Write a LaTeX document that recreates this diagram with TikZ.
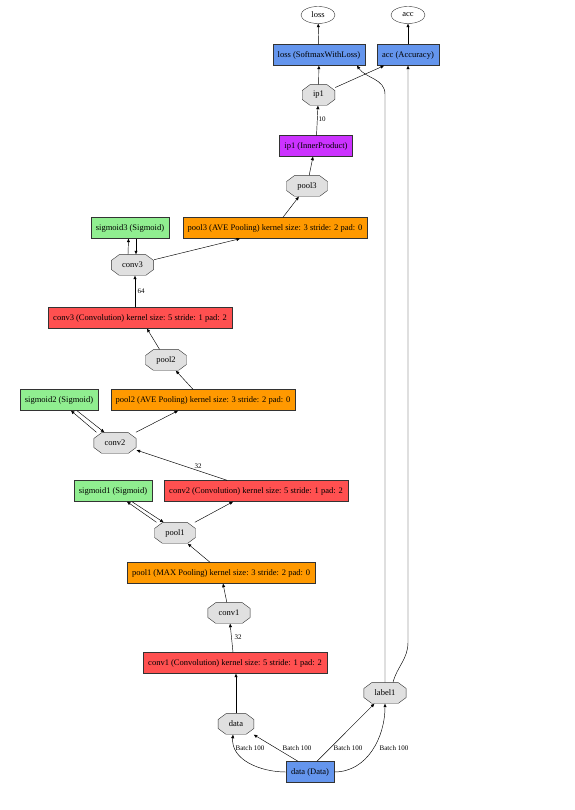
\documentclass[tikz,border=0pt]{standalone}
\usepackage{fontspec}
\setmainfont{Liberation Serif}
\usetikzlibrary{shapes.geometric,arrows.meta}
\definecolor{convred}{HTML}{FF5050}
\definecolor{poolorange}{HTML}{FF9900}
\definecolor{sigmoidgreen}{HTML}{90EE90}
\definecolor{ipviolet}{HTML}{CC33FF}
\definecolor{datablue}{HTML}{6495ED}
\definecolor{blobgray}{HTML}{E0E0E0}
\begin{document}
\begin{tikzpicture}[x=1pt,y=1pt]
\tikzstyle{every node}+=[font=\fontsize{8.5}{10}\selectfont]
\tikzstyle{layer}=[draw=black!80, line width=0.4pt, rectangle, inner xsep=5pt, minimum height=21pt]
\tikzstyle{blob}=[rectangle, inner xsep=11pt, inner ysep=0pt, minimum width=33pt, minimum height=21pt,
  path picture={\draw[fill=blobgray, draw=black!80, line width=0.4pt]
    ([shift={(8pt,-.2pt)}]path picture bounding box.north west) -- ([shift={(-8pt,-.2pt)}]path picture bounding box.north east)
    -- ([shift={(-.2pt,-6pt)}]path picture bounding box.north east) -- ([shift={(-.2pt,6pt)}]path picture bounding box.south east)
    -- ([shift={(-8pt,.2pt)}]path picture bounding box.south east) -- ([shift={(8pt,.2pt)}]path picture bounding box.south west)
    -- ([shift={(.2pt,6pt)}]path picture bounding box.south west) -- ([shift={(.2pt,-6pt)}]path picture bounding box.north west)
    -- cycle;}]
\tikzstyle{topblob}=[draw=black!80, line width=0.4pt, ellipse, inner sep=0pt, minimum width=34pt, minimum height=17pt]
\tikzstyle{edge}=[line width=0.45pt, -{Triangle[length=3.5pt,width=3pt]}]
\tikzstyle{lbl}=[font=\fontsize{7}{8}\selectfont, inner sep=0pt]
\useasboundingbox (0,0) rectangle (574,810);

\node[topblob] (lossE) at (318,795) {loss};
\node[topblob] (accE) at (408,795) {acc};
\node[layer, fill=datablue] (Lloss) at (319,755) {loss (SoftmaxWithLoss)};
\node[layer, fill=datablue] (Lacc) at (408,755) {acc (Accuracy)};
\node[blob] (ip1) at (318.5,715) {ip1};
\node[layer, fill=ipviolet] (Lip1) at (316,664) {ip1 (InnerProduct)};
\node[blob] (pool3) at (307,624) {pool3};
\node[layer, fill=poolorange] (Lpool3) at (275,582) {pool3 (AVE Pooling) kernel size: 3 stride: 2 pad: 0};
\node[layer, fill=sigmoidgreen] (Lsig3) at (130,582) {sigmoid3 (Sigmoid)};
\node[blob] (conv3) at (132.5,545) {conv3};
\node[layer, fill=convred] (Lconv3) at (140,492) {conv3 (Convolution) kernel size: 5 stride: 1 pad: 2};
\node[blob] (pool2) at (166,450) {pool2};
\node[layer, fill=poolorange] (Lpool2) at (203,410) {pool2 (AVE Pooling) kernel size: 3 stride: 2 pad: 0};
\node[layer, fill=sigmoidgreen] (Lsig2) at (59,410) {sigmoid2 (Sigmoid)};
\node[blob] (conv2) at (115,367) {conv2};
\node[layer, fill=convred] (Lconv2) at (256,319) {conv2 (Convolution) kernel size: 5 stride: 1 pad: 2};
\node[layer, fill=sigmoidgreen] (Lsig1) at (113,319) {sigmoid1 (Sigmoid)};
\node[blob] (pool1) at (175,277) {pool1};
\node[layer, fill=poolorange] (Lpool1) at (221,237) {pool1 (MAX Pooling) kernel size: 3 stride: 2 pad: 0};
\node[blob] (conv1) at (229,197) {conv1};
\node[layer, fill=convred] (Lconv1) at (235,147) {conv1 (Convolution) kernel size: 5 stride: 1 pad: 2};
\node[blob] (data) at (236,86) {data};
\node[blob] (label1) at (385,117) {label1};
\node[layer, fill=datablue] (Ldata) at (310,38) {data (Data)};

\draw[edge] (Ldata.west) to[out=180,in=-95] ([xshift=-3]data.south);
\draw[edge] ([xshift=-12]Ldata.north) -- (data);
\draw[edge] ([xshift=7]Ldata.north) -- (label1);
\draw[edge] (Ldata.east) to[out=0,in=-90] (label1.south);
\node[lbl] (b1) at (250,62) {Batch 100};
\node[lbl] (b2) at (297,62) {Batch 100};
\node[lbl] (b3) at (348,62) {Batch 100};
\node[lbl] (b4) at (394,62) {Batch 100};

\draw[edge] (data) -- (data |- Lconv1.south);
\draw[edge] ([xshift=-2]Lconv1.north) -- (conv1);
\node[lbl] (w1) at (238,173) {32};
\draw[edge] (conv1) -- ([xshift=2]Lpool1.south);
\draw[edge] ([xshift=-11]Lpool1.north) -- (pool1);
\draw[edge] (pool1.150) -- ([xshift=14]Lsig1.south);
\draw[edge] ([xshift=19]Lsig1.south) -- (pool1.137);
\draw[edge] (pool1) -- ([xshift=-23]Lconv2.south);
\draw[edge] ([xshift=-29]Lconv2.north) -- (conv2);
\node[lbl] (w2) at (198,344) {32};
\draw[edge] (conv2.150) -- ([xshift=12]Lsig2.south);
\draw[edge] ([xshift=18]Lsig2.south) -- (conv2.135);
\draw[edge] (conv2) -- ([xshift=-25]Lpool2.south);
\draw[edge] ([xshift=-10]Lpool2.north) -- (pool2);
\draw[edge] (pool2) -- ([xshift=7]Lconv3.south);
\draw[edge] ([xshift=-5]Lconv3.north) -- ([xshift=2.5]conv3.south);
\node[lbl] (w3) at (141,519) {64};
\draw[edge] ([xshift=-4.5]conv3.north) -- ([xshift=-1.5]Lsig3.south);
\draw[edge] ([xshift=6]Lsig3.south) -- ([xshift=3.5]conv3.north);
\draw[edge] (conv3) -- ([xshift=-35]Lpool3.south);
\draw[edge] ([xshift=8]Lpool3.north) -- (pool3);
\draw[edge] (pool3) -- ([xshift=-3]Lip1.south);
\draw[edge] (Lip1) -- (ip1);
\node[lbl] (w4) at (322,691) {10};
\draw[edge] (ip1) -- (Lloss);
\draw[edge] (ip1) -- ([xshift=-24]Lacc.south);
\draw[edge] (label1.north) -- ++(0,588) to[out=90,in=-55] ([xshift=38]Lloss.south);
\draw[edge] ([xshift=8]label1.north) to[out=75,in=-90] ++(15,40) -- (Lacc.south);
\draw[edge] (Lloss) -- (lossE);
\draw[edge] (Lacc) -- (accE);
\end{tikzpicture}
\end{document}
